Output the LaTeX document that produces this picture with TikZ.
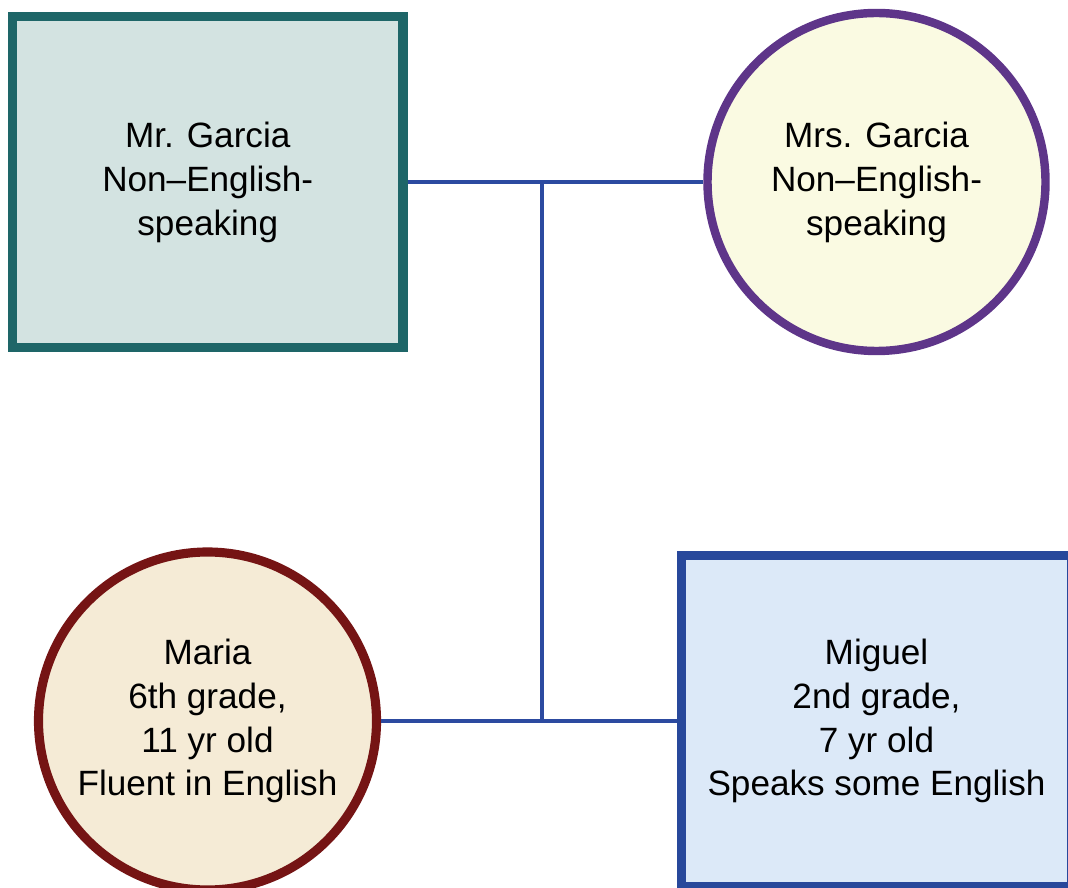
\documentclass[tikz,border=0pt]{standalone}
\usepackage{fontspec}
\setmainfont{Liberation Sans}
\definecolor{FatherLine}{RGB}{30,102,104}
\definecolor{FatherFill}{RGB}{211,227,225}
\definecolor{MotherLine}{RGB}{94,53,137}
\definecolor{MotherFill}{RGB}{250,250,226}
\definecolor{DaughterLine}{RGB}{117,20,20}
\definecolor{DaughterFill}{RGB}{245,235,214}
\definecolor{SonLine}{RGB}{40,72,155}
\definecolor{SonFill}{RGB}{220,233,248}
\definecolor{LinkBlue}{RGB}{44,74,160}
\usetikzlibrary{
    shapes.geometric,
    positioning,
    calc,
}

\begin{document}
\begin{tikzpicture}[
    member/.style={align=center, font=\fontsize{20}{25}\selectfont, inner sep=0pt},
    malebox/.style={member, rectangle, line width=5.2pt, minimum width=7.81cm, minimum height=6.62cm},
    femalecircle/.style={member, circle, line width=4.8pt, minimum size=6.76cm},
    link/.style={draw=LinkBlue, line width=2.2pt},
]
    \useasboundingbox (0,0) rectangle (21.36,-17.76);

    % parents
    \node[malebox, draw=FatherLine, fill=FatherFill] (father) at (4.155,-3.64)
        {Mr. Garcia\\Non--English-\\speaking};
    \node[femalecircle, draw=MotherLine, fill=MotherFill] (mother) at (17.53,-3.64)
        {Mrs. Garcia\\Non--English-\\speaking};

    % children
    \node[femalecircle, draw=DaughterLine, fill=DaughterFill, line width=5.2pt] (maria) at (4.15,-14.42)
        {Maria\\6th grade,\\11 yr old\\Fluent in English};
    \node[malebox, draw=SonLine, fill=SonFill] (miguel) at (17.53,-14.42)
        {Miguel\\2nd grade,\\7 yr old\\Speaks some English};

    % family lines
    \coordinate (split) at ($(father.center)!0.5!(mother.center)$);
    \draw[link] (father) -- (mother);
    \draw[link] (maria) -- (miguel);
    \draw[link] (split) -- (split |- maria.east);
\end{tikzpicture}
\end{document}
